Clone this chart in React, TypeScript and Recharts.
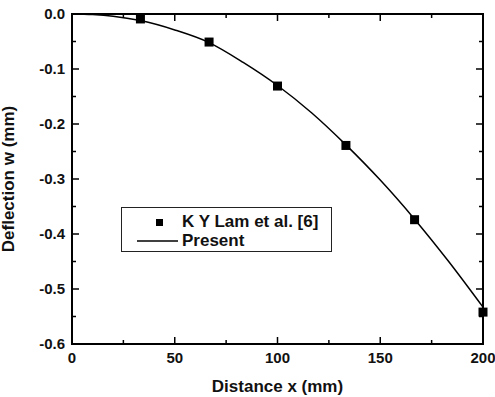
import {
  ComposedChart,
  Line,
  Scatter,
  XAxis,
  YAxis,
  Label,
} from 'recharts'

const lamX = [33.3, 66.7, 100, 133.3, 166.7, 200]
const lamW = [-0.009, -0.051, -0.131, -0.239, -0.374, -0.542]

const presentX = [0, 10, 20, 33.3, 50, 66.7, 83.3, 100, 116.7, 133.3, 150, 166.7, 183.3, 200]
const presentW = [0, -0.001, -0.004, -0.012, -0.029, -0.052, -0.088, -0.13, -0.18, -0.238, -0.302, -0.373, -0.45, -0.533]

const xTicks = [0, 25, 50, 75, 100, 125, 150, 175, 200]
const yTicks = [-0.6, -0.55, -0.5, -0.45, -0.4, -0.35, -0.3, -0.25, -0.2, -0.15, -0.1, -0.05, 0]

const lamData = lamX.map((x, i) => ({ x, w: lamW[i] }))
const presentData = presentX.map((x, i) => ({ x, w: presentW[i] }))

const font = 'Liberation Sans, Arial, sans-serif'
const MAJOR = 7
const MINOR = 4
const W = 495
const H = 397
const M = { top: 14, right: 12, bottom: 0, left: 0 }
const AXIS_W = 72
const AXIS_H = 53
const PLOT_TOP = M.top
const PLOT_RIGHT = W - M.right

const isMajorX = (v: number) => v % 50 === 0
const isMajorY = (v: number) => Math.abs(Math.round(v * 10) - v * 10) < 1e-6

function BottomTick(props: any) {
  const { x, y, payload } = props
  const major = isMajorX(payload.value)
  const len = major ? MAJOR : MINOR
  return (
    <g>
      <line x1={x} y1={y} x2={x} y2={y - len} stroke="#000" strokeWidth={1.5} />
      <line x1={x} y1={PLOT_TOP} x2={x} y2={PLOT_TOP + len} stroke="#000" strokeWidth={1.5} />
      {major && (
        <text x={x} y={y + 19} textAnchor="middle" fontFamily={font} fontWeight="bold" fontSize={15} fill="#111">
          {payload.value}
        </text>
      )}
    </g>
  )
}

function LeftTick(props: any) {
  const { x, y, payload } = props
  const major = isMajorY(payload.value)
  const len = major ? MAJOR : MINOR
  return (
    <g>
      <line x1={x} y1={y} x2={x + len} y2={y} stroke="#000" strokeWidth={1.5} />
      <line x1={PLOT_RIGHT} y1={y} x2={PLOT_RIGHT - len} y2={y} stroke="#000" strokeWidth={1.5} />
      {major && (
        <text x={x - 7} y={y + 5} textAnchor="end" fontFamily={font} fontWeight="bold" fontSize={15} fill="#111">
          {payload.value.toFixed(1)}
        </text>
      )}
    </g>
  )
}

function SquareDot(props: any) {
  const { cx, cy } = props
  return <rect x={cx - 4.5} y={cy - 4.5} width={9} height={9} fill="#000" />
}

function LegendBox() {
  return (
    <div
      style={{
        position: 'absolute',
        left: 121,
        top: 207,
        width: 209,
        height: 43,
        border: '1.5px solid #222',
        background: '#fff',
        fontFamily: font,
        fontWeight: 'bold',
        fontSize: 17,
        color: '#111',
        zIndex: 2,
      }}
    >
      <svg width={60} height={43} style={{ position: 'absolute', left: 0, top: 0 }}>
        <rect x={34} y={11} width={7} height={7} fill="#000" />
        <line x1={15} y1={33} x2={56} y2={33} stroke="#000" strokeWidth={1.5} />
      </svg>
      <div style={{ position: 'absolute', left: 60, top: 4, lineHeight: '20px' }}>K Y Lam et al. [6]</div>
      <div style={{ position: 'absolute', left: 60, top: 23, lineHeight: '20px' }}>Present</div>
    </div>
  )
}

export default function App() {
  return (
    <div style={{ position: 'absolute', left: 0, top: 0, width: W, height: H, background: '#fff' }}>
      <ComposedChart width={W} height={H} margin={M}>
        <XAxis
          dataKey="x"
          type="number"
          domain={[0, 200]}
          ticks={xTicks}
          interval={0}
          tick={<BottomTick />}
          tickSize={0}
          tickMargin={0}
          tickLine={false}
          axisLine={{ stroke: '#000', strokeWidth: 2 }}
          height={AXIS_H}
        >
          <Label
            value="Distance x (mm)"
            position="insideBottom"
            offset={5}
            style={{ fontFamily: font, fontWeight: 'bold', fontSize: 17, fill: '#111' }}
          />
        </XAxis>
        <YAxis
          type="number"
          domain={[-0.6, 0]}
          ticks={yTicks}
          interval={0}
          tick={<LeftTick />}
          tickSize={0}
          tickMargin={0}
          tickLine={false}
          axisLine={{ stroke: '#000', strokeWidth: 2 }}
          width={AXIS_W}
        >
          <Label
            value="Deflection w (mm)"
            angle={-90}
            position="insideLeft"
            offset={8}
            style={{ textAnchor: 'middle', fontFamily: font, fontWeight: 'bold', fontSize: 17, fill: '#111' }}
          />
        </YAxis>
        <Line
          data={presentData}
          dataKey="w"
          name="Present"
          type="monotone"
          stroke="#000"
          strokeWidth={1.5}
          dot={false}
          isAnimationActive={false}
        />
        <Scatter
          data={lamData}
          dataKey="w"
          name="K Y Lam et al. [6]"
          fill="#000"
          shape={<SquareDot />}
          isAnimationActive={false}
        />
      </ComposedChart>
      {/* plot box frame */}
      <div
        style={{
          position: 'absolute',
          left: AXIS_W - 1,
          top: PLOT_TOP - 1,
          width: PLOT_RIGHT - AXIS_W - 2,
          height: H - AXIS_H - PLOT_TOP - 2,
          border: '2px solid #000',
          boxSizing: 'content-box',
          pointerEvents: 'none',
          zIndex: 1,
        }}
      />
      <LegendBox />
    </div>
  )
}
